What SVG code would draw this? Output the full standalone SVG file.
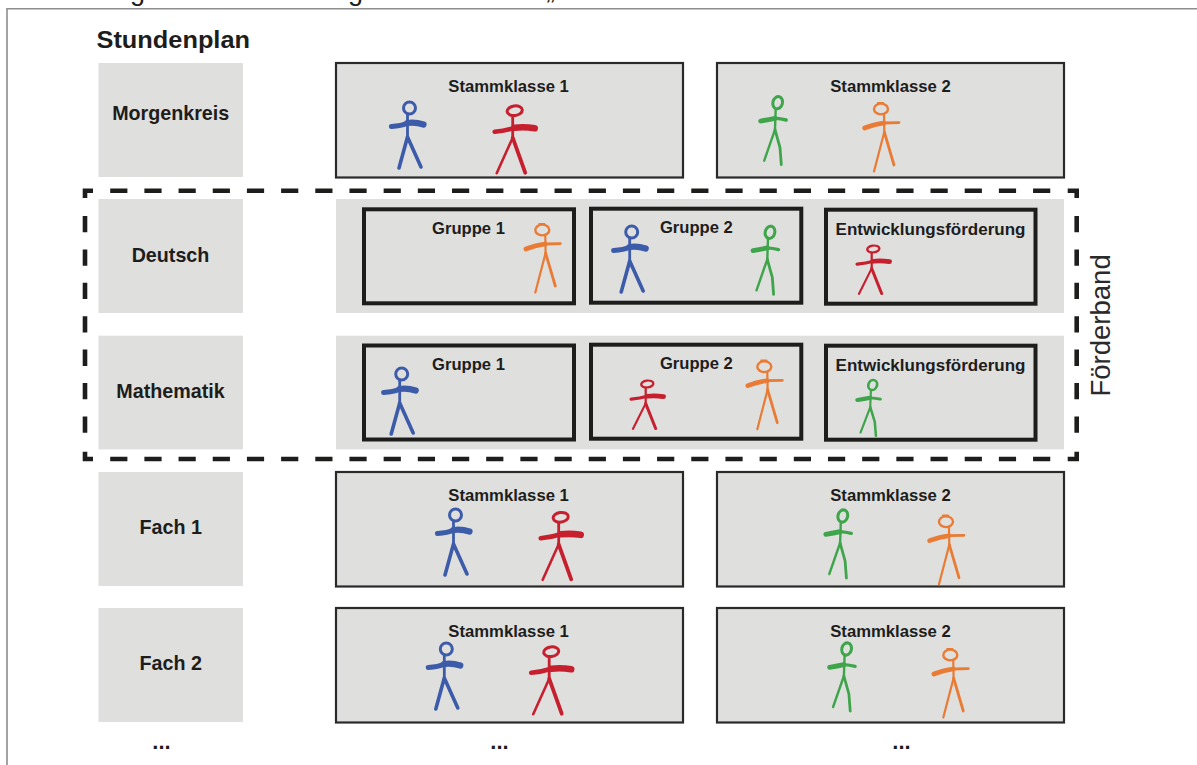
<svg xmlns="http://www.w3.org/2000/svg" width="1197" height="765" viewBox="0 0 1197 765">
<style>
text{font-family:"Liberation Sans",Arial,sans-serif;fill:#1d1d1b}
.b{font-weight:700;text-anchor:middle}
.subj{font-size:19.7px}
.sk{font-size:16.7px}
.gr{font-size:16.6px}
.ef{font-size:17px}
.dots{font-size:22px}
.cell{fill:#dfdfde}
.sbox{fill:#dfdfde;stroke:#2a2a2a;stroke-width:2.2}
.gbox{fill:#dfdfde;stroke:#1d1d1b;stroke-width:4}
.dash{fill:none;stroke:#1d1d1b;stroke-width:4.6}
.frame{fill:none;stroke:#8e8e8e;stroke-width:1.6}
.f{fill:none;stroke-linecap:round;stroke-linejoin:round}
.blue{stroke:#3c5ba9}.red{stroke:#c6202e}.green{stroke:#3fa54a}.orange{stroke:#e97b34}
</style>
<defs>
<g id="fig-blue" class="f blue">
<ellipse cx="0" cy="0" rx="6" ry="6" stroke-width="3"/>
<path d="M-2 6V29" stroke-width="2.8"/>
<path d="M-2 29L-10.5 60M-2 29L11.5 59" stroke-width="3.6"/>
<path d="M-18 18.5Q-8 18-2 15" stroke-width="5.2"/>
<path d="M-2 15Q6 14 14 16.5" stroke-width="6.2"/>
</g>
<g id="fig-red" class="f red">
<ellipse cx="0" cy="0" rx="7.6" ry="4.8" transform="rotate(-8)" stroke-width="3"/>
<path d="M-2 5L-2 27" stroke-width="2.8"/>
<path d="M-2 27L-18 62.5" stroke-width="2.6"/>
<path d="M-2 27L10.5 62" stroke-width="3.8"/>
<path d="M-20 21Q-9 20 0 17" stroke-width="4.6"/>
<path d="M0 17Q10 16 20 17.5" stroke-width="6.6"/>
</g>
<g id="fig-green" class="f green">
<ellipse cx="0" cy="0" rx="4.8" ry="6.2" transform="rotate(15)" stroke-width="3"/>
<path d="M-2 6L-2.7 27" stroke-width="2.4"/>
<path d="M-2.7 27L2.3 45L3.6 62" stroke-width="2.8"/>
<path d="M-2.7 27L-13.5 58" stroke-width="2.4"/>
<path d="M-17 18.3Q-9 17-2.7 15.6" stroke-width="4.8"/>
<path d="M-2.7 15.6Q3 16 8.5 17.3" stroke-width="3.4"/>
</g>
<g id="fig-orange" class="f orange">
<ellipse cx="0" cy="0" rx="7" ry="5.4" stroke-width="2.4"/>
<path d="M-3-6L2-6M3 5.5L3.3 23" stroke-width="2.2"/>
<path d="M3.3 23L-7 62.5" stroke-width="2.2"/>
<path d="M3.3 23L13 56" stroke-width="2.8"/>
<path d="M-16.5 19Q-6 15 3 14" stroke-width="4.6"/>
<path d="M3 14L18 13.6" stroke-width="2.8"/>
</g>
</defs>
<rect width="1197" height="765" fill="#fff"/>
<g id="fragment">
<text x="130" y="0" font-size="27">g</text>
<text x="348" y="0" font-size="27">g</text>
<text x="546" y="-1" font-size="27">„</text>
</g>
<path id="frame" class="frame" d="M7 765V8.7H1197"/>
<text id="title" x="96.5" y="48" font-size="24.6" font-weight="700" textLength="153.5" lengthAdjust="spacingAndGlyphs">Stundenplan</text>

<g id="row-morgenkreis">
<rect class="cell" x="98.5" y="63" width="144.5" height="114"/>
<text class="b subj" x="170.7" y="120">Morgenkreis</text>
</g>
<g id="morgen-stamm1">
<rect class="sbox" x="336" y="63" width="347" height="114.5"/>
<text class="b sk" x="508.6" y="91.7">Stammklasse 1</text>
<use href="#fig-blue" x="409.5" y="108"/><use href="#fig-red" x="514.7" y="110.7"/>
</g>
<g id="morgen-stamm2">
<rect class="sbox" x="717" y="63" width="347" height="114.5"/>
<text class="b sk" x="890.5" y="91.7">Stammklasse 2</text>
<use href="#fig-green" x="777.7" y="102.7"/><use href="#fig-orange" x="881" y="109"/>
</g>

<g id="row-deutsch">
<rect class="cell" x="98.5" y="199" width="144.5" height="114"/>
<text class="b subj" x="170.5" y="261.5">Deutsch</text>
<rect class="cell" x="336" y="199" width="728" height="114"/>
</g>
<g id="deutsch-gruppe1">
<rect class="gbox" x="364" y="209.3" width="210" height="94"/>
<text class="b gr" x="468.5" y="234">Gruppe 1</text>
<use href="#fig-orange" x="542.3" y="230"/>
</g>
<g id="deutsch-gruppe2">
<rect class="gbox" x="591" y="208.7" width="210.3" height="94"/>
<text class="b gr" x="696.3" y="233">Gruppe 2</text>
<use href="#fig-blue" x="631.7" y="232"/><use href="#fig-green" x="770" y="232.3"/>
</g>
<g id="deutsch-foerderung">
<rect class="gbox" x="826" y="209.7" width="209.5" height="94"/>
<text class="b ef" x="930.5" y="235">Entwicklungsförderung</text>
<use href="#fig-red" transform="translate(873.3 249) scale(.8 .72)"/>
</g>

<g id="row-mathematik">
<rect class="cell" x="98.5" y="335.7" width="144.5" height="113.7"/>
<text class="b subj" x="170.5" y="397.7">Mathematik</text>
<rect class="cell" x="336" y="335.7" width="728" height="113.7"/>
</g>
<g id="mathe-gruppe1">
<rect class="gbox" x="364" y="345.5" width="210" height="94"/>
<text class="b gr" x="468.5" y="370">Gruppe 1</text>
<use href="#fig-blue" x="401.7" y="374"/>
</g>
<g id="mathe-gruppe2">
<rect class="gbox" x="591" y="344.7" width="210.3" height="94"/>
<text class="b gr" x="696.3" y="369">Gruppe 2</text>
<use href="#fig-red" transform="translate(647.3 384) scale(.8 .72)"/><use href="#fig-orange" x="764.3" y="366.7"/>
</g>
<g id="mathe-foerderung">
<rect class="gbox" x="826" y="345.7" width="209.5" height="94"/>
<text class="b ef" x="930.5" y="371">Entwicklungsförderung</text>
<use href="#fig-green" transform="translate(872.7 385) scale(.9 .82)"/>
</g>

<g id="row-fach1">
<rect class="cell" x="98.5" y="472" width="144.5" height="114"/>
<text class="b subj" x="170.7" y="534">Fach 1</text>
</g>
<g id="fach1-stamm1">
<rect class="sbox" x="336" y="472" width="347" height="114.5"/>
<text class="b sk" x="508.6" y="500.5">Stammklasse 1</text>
<use href="#fig-blue" x="455.5" y="515"/><use href="#fig-red" x="560.7" y="517.3"/>
</g>
<g id="fach1-stamm2">
<rect class="sbox" x="717" y="472" width="347" height="114.5"/>
<text class="b sk" x="890.5" y="500.5">Stammklasse 2</text>
<use href="#fig-green" x="842.8" y="516"/><use href="#fig-orange" x="946" y="521.7"/>
</g>

<g id="row-fach2">
<rect class="cell" x="98.5" y="608" width="144.5" height="114"/>
<text class="b subj" x="170.7" y="670">Fach 2</text>
</g>
<g id="fach2-stamm1">
<rect class="sbox" x="336" y="608" width="347" height="114.5"/>
<text class="b sk" x="508.6" y="636.7">Stammklasse 1</text>
<use href="#fig-blue" x="446.3" y="649"/><use href="#fig-red" x="551.2" y="651.7"/>
</g>
<g id="fach2-stamm2">
<rect class="sbox" x="717" y="608" width="347" height="114.5"/>
<text class="b sk" x="890.5" y="636.7">Stammklasse 2</text>
<use href="#fig-green" x="846.6" y="649"/><use href="#fig-orange" x="950.3" y="655"/>
</g>

<g id="foerderband">
<path class="dash" d="M85 198V190.7H93M1067.7 190.7H1076.7V198M85 451.7V459H93M1067.7 459H1076.7V451.7"/>
<path class="dash" stroke-dasharray="17.2 16.98" d="M110.2 190.7H1051M110.2 459H1051"/>
<path class="dash" stroke-dasharray="16.3 17.1" d="M85 216V434M1076.7 216V434"/>
<text x="1109.5" y="396.5" font-size="27.5" transform="rotate(-90 1109.5 396.5)" style="fill:#2a2a2a">Förderband</text>
</g>

<g id="more">
<text class="b dots" x="161.5" y="749">...</text>
<text class="b dots" x="499.5" y="749">...</text>
<text class="b dots" x="901.5" y="749">...</text>
</g>
</svg>
